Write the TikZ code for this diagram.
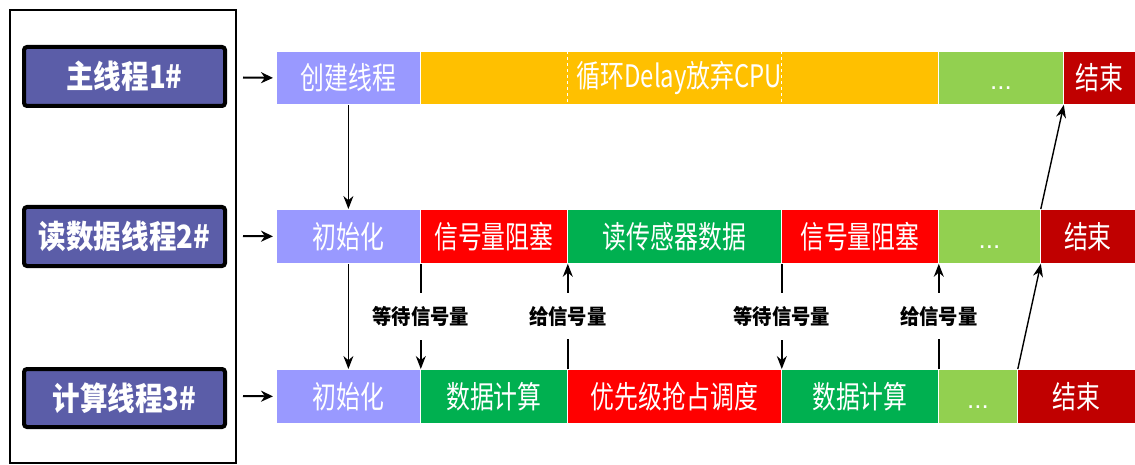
\documentclass[tikz,border=0pt]{standalone}
\usepackage{fontspec}
\setmainfont{Noto Sans CJK SC}
\newfontfamily\barfont[FakeStretch=0.77]{Noto Sans CJK SC}
\newfontfamily\dotfont{Liberation Sans}
\newfontfamily\lblfont[FakeStretch=0.86]{Noto Sans CJK SC}
\newfontfamily\notefont[FakeStretch=0.92]{Noto Sans CJK SC}
\usetikzlibrary{arrows.meta}
\definecolor{lav}{HTML}{9999FF}
\definecolor{yel}{HTML}{FFC000}
\definecolor{lgr}{HTML}{92D050}
\definecolor{dred}{HTML}{C00000}
\definecolor{bred}{HTML}{FF0000}
\definecolor{bgrn}{HTML}{00B050}
\definecolor{boxc}{HTML}{5B5DA8}
\newcommand\mycell[7]{\node[cell, fill=#6, minimum width={(#3-#2)*1pt}, minimum height={(#5-#4)*1pt}] (#1) at (#2,#4) {#7};}
\newcommand\mydots{\vphantom{结}{\dotfont\fontsize{26}{26}\selectfont ...}}
\begin{document}
\begin{tikzpicture}[x=1pt,y=-1pt,
  cell/.style={draw=white, line width=0.8pt, anchor=north west, inner sep=0pt, text=white,
    font=\barfont\fontsize{31}{31}\selectfont},
  tbox/.style={draw=black, line width=4pt, rounded corners=3pt, fill=boxc, text=white,
    minimum width=201pt, inner sep=0pt, font=\lblfont\bfseries\fontsize{32}{32}\selectfont},
  arr/.style={line width=1.4pt, -{Stealth[length=13pt,width=10pt]}},
  inarr/.style={line width=2pt, -{Stealth[length=12pt,width=11pt]}, shorten >=3pt},
  lbl/.style={fill=white, text=black, inner xsep=6pt, inner ysep=13pt,
    font=\notefont\bfseries\fontsize{21}{21}\selectfont}]
\useasboundingbox (0,0) rectangle (1135,465);
\fill[white] (0,0) rectangle (1135,465);
% frame
\draw[line width=2.5pt] (10,10) rectangle (236,463);
% thread labels
\node[tbox, minimum height=59pt] (t1) at (124.5,76.5) {主线程1\#};
\node[tbox, minimum height=59pt] (t2) at (124.5,236.5) {读数据线程2\#};
\node[tbox, minimum height=58pt] (t3) at (124.5,398) {计算线程3\#};
% row 1
\mycell{r1a}{276}{420}{51}{104}{lav}{创建线程}
\mycell{r1b}{420}{938}{51}{104}{yel}{循环Delay放弃CPU}
\mycell{r1c}{938}{1063}{51}{104}{lgr}{\mydots}
\mycell{r1d}{1063}{1135}{51}{104}{dred}{结束}
\draw[white, dashed, line width=0.8pt] (567,51) -- (567,104);
\draw[white, dashed, line width=0.8pt] (781,51) -- (781,104);
% row 2
\mycell{r2a}{276}{420}{209}{263}{lav}{初始化}
\mycell{r2b}{420}{567}{209}{263}{bred}{信号量阻塞}
\mycell{r2c}{567}{781}{209}{263}{bgrn}{读传感器数据}
\mycell{r2d}{781}{938}{209}{263}{bred}{信号量阻塞}
\mycell{r2e}{938}{1040}{209}{263}{lgr}{\mydots}
\mycell{r2f}{1040}{1135}{209}{263}{dred}{结束}
% row 3
\mycell{r3a}{276}{420}{369}{423}{lav}{初始化}
\mycell{r3b}{420}{567}{369}{423}{bgrn}{数据计算}
\mycell{r3c}{567}{781}{369}{423}{bred}{优先级抢占调度}
\mycell{r3d}{781}{938}{369}{423}{bgrn}{数据计算}
\mycell{r3e}{938}{1017}{369}{423}{lgr}{\mydots}
\mycell{r3f}{1017}{1135}{369}{423}{dred}{结束}
% input arrows
\coordinate (s1) at (243,77.5);
\coordinate (s2) at (243,236);
\coordinate (s3) at (243,396);
\draw[inarr] (s1) -- (r1a.west);
\draw[inarr] (s2) -- (r2a.west);
\draw[inarr] (s3) -- (r3a.west);
% vertical arrows
\draw[arr] (r1a.south) -- (r2a.north);
\draw[arr] (r2a.south) -- (r3a.north);
\draw[arr] (r2a.south east) -- node[lbl] {等待信号量} (r3a.north east);
\draw[arr] (r3b.north east) -- node[lbl] {给信号量} (r2b.south east);
\draw[arr] (r2c.south east) -- node[lbl] {等待信号量} (r3c.north east);
\draw[arr] (r3d.north east) -- node[lbl] {给信号量} (r2d.south east);
% diagonal arrows
\draw[arr] (r3e.north east) -- (r2e.south east);
\draw[arr] (r2e.north east) -- (r1c.south east);
\end{tikzpicture}
\end{document}
